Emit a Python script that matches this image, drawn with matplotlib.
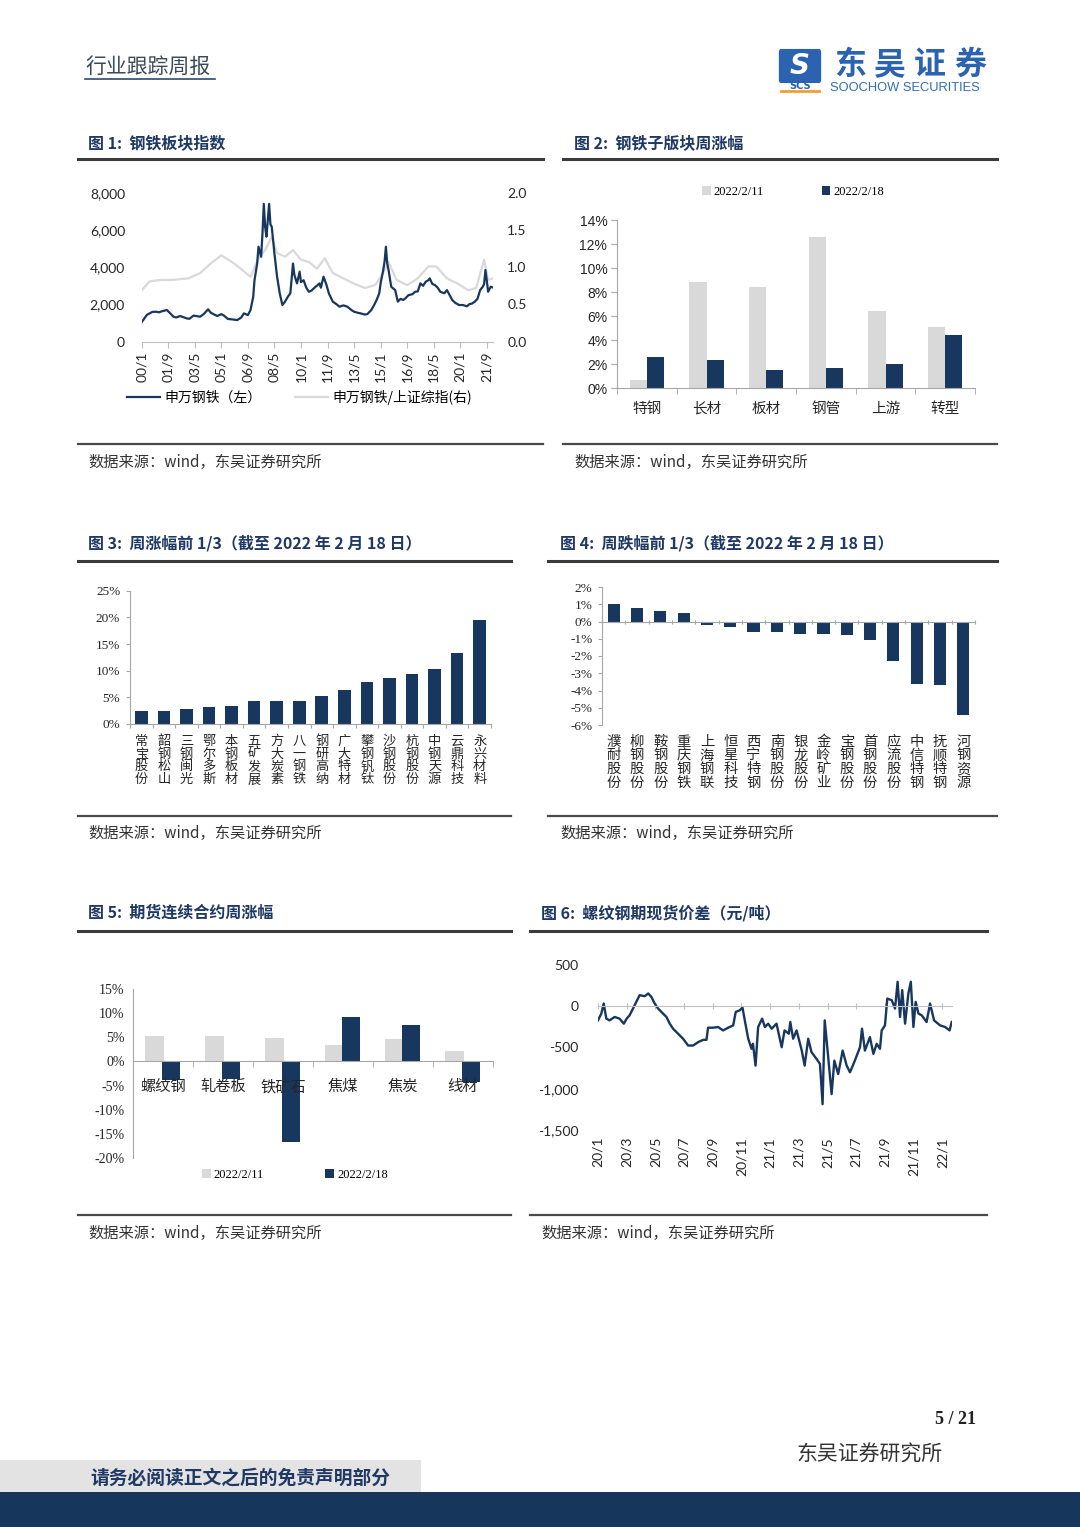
import matplotlib
matplotlib.use('Agg')
import matplotlib.pyplot as plt
from matplotlib.lines import Line2D
from matplotlib.patches import Rectangle, FancyBboxPatch
import matplotlib.transforms as mtransforms
import numpy as np

plt.rcParams['font.family'] = ['Noto Sans CJK SC', 'DejaVu Sans']

NAVY = '#17375e'
LGREY = '#d9d9d9'
AXGREY = '#a6a6a6'
TXT = '#262626'
TITLE_C = '#1f3864'

# ---- data: chart 1 (monthly index since 2000/1)
sw_month = [0, 2, 4, 6, 8, 11, 13, 16, 19, 21, 24, 26, 29, 31, 34, 36, 39, 41, 44, 47, 50,
            52, 54, 57, 60, 62, 65, 68, 72, 75, 77, 80, 82, 84, 85, 87, 88, 90, 91, 92, 93,
            94, 95, 96, 97, 98, 100, 102, 104, 106, 108, 110, 112, 114, 115, 117, 119, 120,
            122, 124, 126, 128, 131, 134, 135, 137, 139, 141, 144, 147, 149, 152, 155, 158,
            160, 163, 165, 168, 170, 173, 175, 177, 179, 180, 182, 183, 184, 185, 186, 188,
            191, 193, 195, 197, 199, 201, 204, 206, 208, 210, 212, 214, 216, 217, 219, 221,
            223, 225, 228, 230, 232, 234, 236, 239, 242, 245, 247, 249, 251, 253, 255, 257,
            258, 259, 260, 261, 263, 265]
sw_index = [1050, 1250, 1450, 1520, 1600, 1610, 1580, 1650, 1700, 1560, 1340, 1300, 1380,
            1330, 1250, 1230, 1400, 1380, 1340, 1500, 1740, 1560, 1480, 1380, 1480, 1400,
            1220, 1200, 1160, 1300, 1520, 1430, 1700, 2400, 3300, 4200, 5100, 4560, 5800,
            7400, 6170, 5640, 6500, 7400, 6300, 6170, 4740, 3490, 2600, 1970, 2150, 2400,
            2600, 4200, 3600, 3130, 3760, 3200, 3300, 2900, 2680, 2750, 2950, 3130, 2900,
            3490, 3100, 2600, 2150, 2000, 1880, 1950, 1880, 1700, 1610, 1550, 1520, 1460,
            1480, 1700, 1950, 2240, 2600, 3130, 3850, 4300, 5100, 4200, 3850, 2950, 2770,
            2150, 2300, 2240, 2350, 2500, 2550, 2680, 2700, 3130, 3000, 3220, 3300, 3400,
            3100, 3040, 2900, 2680, 2600, 2770, 2500, 2240, 2100, 1970, 1970, 1900, 2020,
            2050, 2150, 2300, 2770, 2950, 3100, 3850, 3300, 2680, 2950, 2900]
ratio_month = [0, 6, 15, 24, 35, 44, 52, 60, 68, 76, 82, 88, 93, 98, 102, 108, 114, 120,
               126, 132, 138, 144, 152, 160, 168, 176, 182, 186, 192, 200, 208, 216, 222,
               230, 238, 246, 252, 258, 261, 265]
ratio_val = [0.69, 0.81, 0.83, 0.83, 0.85, 0.92, 1.05, 1.16, 1.07, 0.96, 0.87, 1.12, 1.23,
             1.41, 1.19, 1.14, 1.23, 1.10, 1.07, 0.98, 1.12, 0.92, 0.85, 0.78, 0.72, 0.76,
             0.92, 1.07, 0.83, 0.76, 0.85, 1.01, 1.01, 0.85, 0.78, 0.69, 0.72, 1.10, 0.83,
             0.85]
c1_tick_pos = [0, 20, 40, 60, 80, 100, 120, 140, 160, 180, 200, 220, 240, 260]
c1_tick_lab = ['00/1', '01/9', '03/5', '05/1', '06/9', '08/5', '10/1', '11/9', '13/5',
               '15/1', '16/9', '18/5', '20/1', '21/9']

# ---- chart 2
sub_cats = ['特钢', '长材', '板材', '钢管', '上游', '转型']
sub_0211 = [0.7, 8.8, 8.4, 12.6, 6.4, 5.1]
sub_0218 = [2.6, 2.3, 1.5, 1.7, 2.0, 4.4]

# ---- chart 3
up_names = ['常宝股份', '韶钢松山', '三钢闽光', '鄂尔多斯', '本钢板材', '五矿发展', '方大炭素',
            '八一钢铁', '钢研高纳', '广大特材', '攀钢钒钛', '沙钢股份', '杭钢股份', '中钢天源',
            '云鼎科技', '永兴材料']
up_vals = [2.4, 2.4, 2.9, 3.1, 3.4, 4.3, 4.3, 4.4, 5.2, 6.3, 7.9, 8.6, 9.3, 10.3, 13.3, 19.5]

# ---- chart 4
dn_names = ['濮耐股份', '柳钢股份', '鞍钢股份', '重庆钢铁', '上海钢联', '恒星科技', '西宁特钢',
            '南钢股份', '银龙股份', '金岭矿业', '宝钢股份', '首钢股份', '应流股份', '中信特钢',
            '抚顺特钢', '河钢资源']
dn_vals = [1.0, 0.8, 0.6, 0.5, -0.2, -0.3, -0.6, -0.6, -0.7, -0.7, -0.8, -1.1, -2.3, -3.6,
           -3.7, -5.4]

# ---- chart 5
fut_cats = ['螺纹钢', '轧卷板', '铁矿石', '焦煤', '焦炭', '线材']
fut_0211 = [5.2, 5.2, 4.9, 3.5, 4.7, 2.1]
fut_0218 = [-3.9, -3.7, -16.6, 9.3, 7.6, -4.3]

# ---- chart 6 (months since 2020/1)
bs_month = [0, 0.23, 0.4, 0.58, 0.8, 1.16, 1.5, 1.8, 2.0, 2.2, 2.44, 2.67, 2.9, 3.26, 3.5,
            3.72, 3.95, 4.19, 4.42, 4.77, 5.0, 5.23, 5.58, 5.93, 6.28, 6.63, 6.98, 7.33,
            7.56, 7.67, 8.0, 8.37, 8.72, 9.07, 9.42, 9.6, 9.88, 10.07, 10.23, 10.47, 10.7,
            10.8, 10.98, 11.16, 11.44, 11.63, 11.86, 12.1, 12.44, 12.8, 13.0, 13.3, 13.4,
            13.6, 13.84, 14.2, 14.4, 14.65, 14.88, 15.23, 15.47, 15.65, 15.8, 16.0, 16.28,
            16.47, 16.74, 17.05, 17.33, 17.56, 17.9, 18.26, 18.4, 18.6, 18.95, 19.19, 19.42,
            19.65, 19.77, 20.0, 20.16, 20.47, 20.7, 20.88, 21.05, 21.2, 21.4, 21.63, 21.8,
            21.98, 22.14, 22.33, 22.56, 22.9, 23.14, 23.42, 23.84, 24.2, 24.5, 24.65]
bs_val = [-171, -89, 33, -150, -171, -130, -150, -211, -150, -110, -28, 53, 134, 122, 155,
          114, 33, -28, -69, -130, -211, -272, -333, -394, -476, -476, -435, -407, -407,
          -260, -260, -252, -293, -260, -232, -69, -49, -16, -171, -394, -516, -455, -720,
          -252, -150, -252, -211, -272, -211, -496, -293, -333, -191, -394, -293, -537,
          -720, -394, -557, -638, -699, -1187, -171, -537, -1065, -659, -821, -537, -720,
          -801, -659, -496, -272, -537, -374, -577, -455, -516, -293, -232, 93, 73, -28,
          297, -130, 195, -211, 155, 297, -252, 53, -89, -110, -191, 33, -171, -232, -252,
          -293, -191]
c6_tick_pos = [0, 2, 4, 6, 8, 10, 12, 14, 16, 18, 20, 22, 24]
c6_tick_lab = ['20/1', '20/3', '20/5', '20/7', '20/9', '20/11', '21/1', '21/3', '21/5',
               '21/7', '21/9', '21/11', '22/1']

W, H = 1080, 1527
fig = plt.figure(figsize=(10.8, 15.27), dpi=100)


def box(x0, y0, x1, y1):
    return [x0 / W, 1 - y1 / H, (x1 - x0) / W, (y1 - y0) / H]


def ftext(x, y, s, **kw):
    fig.text(x / W, 1 - y / H, s, **kw)


def hline(x0, x1, y, lw, color):
    fig.add_artist(Line2D([x0 / W, x1 / W], [1 - y / H, 1 - y / H], lw=lw, color=color,
                          transform=fig.transFigure))


def panel_frame(x0, x1, ytitle, yrule, ybottom, ysrc, title, tx):
    ftext(tx, ytitle, title, fontsize=11.5, fontweight='bold', color=TITLE_C, va='center')
    hline(x0, x1, yrule, 2.2, '#3a3a3a')
    hline(x0, x1, ybottom, 1.6, '#4a4a4a')
    ftext(tx, ysrc, '数据来源：wind，东吴证券研究所', fontsize=11, color='#333333', va='center')


def stacked_labels(ax, names, top_off, step, size):
    trans = mtransforms.blended_transform_factory(ax.transData, ax.transAxes)
    for i, name in enumerate(names):
        for k, ch in enumerate(name):
            ax.annotate(ch, xy=(i, 0), xycoords=trans, xytext=(0, -top_off - k * step),
                        textcoords='offset points', ha='center', va='top', fontsize=size,
                        color=TXT)


# ---------------- header / footer
ftext(85, 67, '行业跟踪周报', fontsize=15, color='#3a4a5a', va='center')
hline(85, 215, 79, 1.2, '#2f4a6d')
logo = FancyBboxPatch((781 / W, 1 - 80 / H), 38 / W, 28 / H, boxstyle='round,pad=0.002',
                      transform=fig.transFigure, fc='#2b63b0', ec='none')
fig.add_artist(logo)
ftext(800, 66, 'S', fontsize=20, fontweight='bold', color='white', ha='center', va='center',
      style='italic', family='DejaVu Sans')
ftext(800, 86, 'SCS', fontsize=7, fontweight='bold', color='#2b63b0', ha='center',
      va='center', family='DejaVu Sans')
hline(781, 819, 91, 2, '#f0a030')
for k, ch in enumerate('东吴证券'):
    ftext(850 + k * 40, 65, ch, fontsize=23, fontweight='bold', color='#2b63b0', ha='center',
          va='center')
ftext(830, 88, 'SOOCHOW SECURITIES', fontsize=9.3, color='#2f6db5', va='center',
      family='Liberation Sans')

ftext(976, 1419, '5 / 21', fontsize=13, fontweight='bold', ha='right', va='center',
      family='Liberation Serif', color='#222222')
ftext(797, 1455, '东吴证券研究所', fontsize=15, color='#333333', va='center')
fig.add_artist(Rectangle((0, 1 - 1495 / H), 421 / W, 35 / H, transform=fig.transFigure,
                         fc='#e3e3e3', ec='none'))
fig.add_artist(Rectangle((0, 0), 1, 35 / H, transform=fig.transFigure, fc='#17365c',
                         ec='none'))
ftext(90, 1478, '请务必阅读正文之后的免责声明部分', fontsize=13.5, fontweight='bold',
      color='#1f3864', va='center')

# ---------------- panel frames
panel_frame(78, 543, 143, 159, 444, 462, '图 1:  钢铁板块指数', 88)
panel_frame(563, 997, 143, 159, 444, 462, '图 2:  钢铁子版块周涨幅', 574)
panel_frame(78, 511, 543, 561, 816, 833, '图 3:  周涨幅前 1/3（截至 2022 年 2 月 18 日）', 88)
panel_frame(548, 997, 543, 561, 816, 833, '图 4:  周跌幅前 1/3（截至 2022 年 2 月 18 日）', 560)
panel_frame(78, 511, 913, 931, 1215, 1233, '图 5:  期货连续合约周涨幅', 88)
panel_frame(530, 987, 913, 931, 1215, 1233, '图 6:  螺纹钢期现货价差（元/吨）', 541)

# ---------------- chart 1
ax1 = fig.add_axes(box(141.7, 192.7, 493.4, 341.7))
ax1r = ax1.twinx()
ax1.set_zorder(ax1r.get_zorder() + 1)
ax1.patch.set_visible(False)
l2, = ax1r.plot(ratio_month, ratio_val, color=LGREY, lw=1.6)
l1, = ax1.plot(sw_month, sw_index, color=NAVY, lw=1.6)
ax1.set_xlim(0, 265)
ax1.set_ylim(0, 8000)
ax1r.set_ylim(0, 2)
ax1.set_yticks([0, 2000, 4000, 6000, 8000], ['0', '2,000', '4,000', '6,000', '8,000'],
               fontsize=10, family='Lato', color=TXT)
ax1r.set_yticks([0, 0.5, 1.0, 1.5, 2.0], ['0.0', '0.5', '1.0', '1.5', '2.0'],
                fontsize=10, family='Lato', color=TXT)
ax1.set_xticks(c1_tick_pos, c1_tick_lab, rotation=90, fontsize=10, family='Lato', color=TXT)
for a in (ax1, ax1r):
    for s in ('top', 'left', 'right'):
        a.spines[s].set_visible(False)
    a.spines['bottom'].set_color('#bfbfbf')
ax1r.spines['bottom'].set_visible(False)
ax1.tick_params(axis='y', length=0, pad=12)
ax1r.tick_params(axis='y', length=0, pad=10)
ax1.tick_params(axis='x', length=4, color='#bfbfbf', pad=3)
ax1.legend([l1, l2], ['申万钢铁（左）', '申万钢铁/上证综指(右)'], ncol=2, frameon=False,
           loc='center left', bbox_to_anchor=(127 / W, 1 - 397 / H),
           bbox_transform=fig.transFigure, fontsize=10, handlelength=2.4,
           handletextpad=0.3, columnspacing=2.4, borderpad=0, borderaxespad=0)

# ---------------- chart 2
ax2 = fig.add_axes(box(617, 220, 975, 388))
x2 = np.arange(len(sub_cats))
ax2.bar(x2 - 0.145, sub_0211, width=0.29, color=LGREY, label='2022/2/11')
ax2.bar(x2 + 0.145, sub_0218, width=0.29, color=NAVY, label='2022/2/18')
ax2.set_xlim(-0.5, 5.5)
ax2.set_ylim(0, 14)
ax2.set_yticks(range(0, 15, 2), [f'{v}%' for v in range(0, 15, 2)], fontsize=10,
               family='Liberation Sans', color=TXT)
ax2.set_xticks(x2, sub_cats, fontsize=10.5, color=TXT)
ax2.set_xticks(np.arange(-0.5, 6, 1), minor=True)
ax2.tick_params(axis='x', which='major', length=0, pad=10)
ax2.tick_params(axis='x', which='minor', length=4, color=AXGREY)
ax2.tick_params(axis='y', length=4, color=AXGREY, pad=3)
for s in ('top', 'right'):
    ax2.spines[s].set_visible(False)
for s in ('left', 'bottom'):
    ax2.spines[s].set_color(AXGREY)
ax2.legend(ncol=2, frameon=False, loc='center', bbox_to_anchor=(793 / W, 1 - 192 / H),
           bbox_transform=fig.transFigure, prop={'family': 'Liberation Serif', 'size': 9},
           handlelength=0.7, handleheight=0.7, handletextpad=0.25, columnspacing=4.6,
           borderpad=0, borderaxespad=0)

# ---------------- chart 3
ax3 = fig.add_axes(box(130, 590.7, 491, 724))
x3 = np.arange(len(up_names))
ax3.bar(x3, up_vals, width=0.56, color=NAVY)
ax3.set_xlim(-0.5, len(up_names) - 0.5)
ax3.set_ylim(0, 25)
ax3.set_yticks(range(0, 26, 5), [f'{v}%' for v in range(0, 26, 5)], fontsize=9.5,
               family='Liberation Serif', color=TXT)
ax3.set_xticks(np.arange(-0.5, len(up_names), 1), [])
ax3.tick_params(axis='x', length=3, color=AXGREY)
ax3.tick_params(axis='y', length=3, color=AXGREY, pad=4)
for s in ('top', 'right'):
    ax3.spines[s].set_visible(False)
for s in ('left', 'bottom'):
    ax3.spines[s].set_color(AXGREY)
stacked_labels(ax3, up_names, 8, 9.0, 9.5)

# ---------------- chart 4
ax4 = fig.add_axes(box(602, 587, 975, 725))
x4 = np.arange(len(dn_names))
ax4.bar(x4, dn_vals, width=0.52, color=NAVY)
ax4.set_xlim(-0.5, len(dn_names) - 0.5)
ax4.set_ylim(-6, 2)
ax4.set_yticks(range(-6, 3), [f'{v}%' for v in range(-6, 3)], fontsize=9.5,
               family='Liberation Serif', color=TXT)
ax4.spines['bottom'].set_position(('data', 0))
ax4.set_xticks(np.arange(-0.5, len(dn_names), 1), [])
ax4.tick_params(axis='x', length=3, color=AXGREY, direction='inout')
ax4.tick_params(axis='y', length=3, color=AXGREY, pad=4)
for s in ('top', 'right'):
    ax4.spines[s].set_visible(False)
for s in ('left', 'bottom'):
    ax4.spines[s].set_color(AXGREY)
stacked_labels(ax4, dn_names, 7, 9.9, 10.3)

# ---------------- chart 5
ax5 = fig.add_axes(box(133, 989, 493, 1158))
x5 = np.arange(len(fut_cats))
ax5.bar(x5 - 0.14, fut_0211, width=0.32, color=LGREY, label='2022/2/11')
ax5.bar(x5 + 0.14, fut_0218, width=0.3, color=NAVY, label='2022/2/18')
ax5.set_xlim(-0.5, 5.5)
ax5.set_ylim(-20, 15)
ax5.set_yticks(range(-20, 16, 5), [f'{v}%' for v in range(-20, 16, 5)], fontsize=10,
               family='Liberation Serif', color=TXT)
ax5.spines['bottom'].set_position(('data', 0))
ax5.set_xticks(x5, fut_cats, fontsize=11, color=TXT)
ax5.set_xticks(np.arange(-0.5, 6, 1), minor=True)
ax5.tick_params(axis='x', which='major', length=0, pad=12)
ax5.tick_params(axis='x', which='minor', length=4, color=AXGREY)
ax5.tick_params(axis='y', length=0, pad=6)
for s in ('top', 'right'):
    ax5.spines[s].set_visible(False)
for s in ('left', 'bottom'):
    ax5.spines[s].set_color(AXGREY)
ax5.legend(ncol=2, frameon=False, loc='center', bbox_to_anchor=(295 / W, 1 - 1175 / H),
           bbox_transform=fig.transFigure, prop={'family': 'Liberation Serif', 'size': 9},
           handlelength=0.7, handleheight=0.7, handletextpad=0.25, columnspacing=4.9,
           borderpad=0, borderaxespad=0)

# ---------------- chart 6
ax6 = fig.add_axes(box(598, 965, 952, 1130))
ax6.plot(bs_month, bs_val, color=NAVY, lw=1.7)
ax6.set_xlim(0, 24.67)
ax6.set_ylim(-1500, 500)
ax6.set_yticks([-1500, -1000, -500, 0, 500], ['-1,500', '-1,000', '-500', '0', '500'],
               fontsize=10, family='Lato', color=TXT)
ax6.spines['bottom'].set_position(('data', 0))
ax6.spines['bottom'].set_color('#bfbfbf')
ax6.set_xticks(c6_tick_pos, [])
ax6.tick_params(axis='x', length=4, color='#bfbfbf', direction='inout')
ax6.tick_params(axis='y', length=0, pad=14)
for s in ('top', 'right', 'left'):
    ax6.spines[s].set_visible(False)
sec6 = ax6.secondary_xaxis('bottom')
sec6.set_xticks(c6_tick_pos, c6_tick_lab, rotation=90, fontsize=10, family='Lato', color=TXT)
sec6.tick_params(length=0, pad=5)
sec6.spines['bottom'].set_visible(False)

fig.savefig('out.png', dpi=100)
